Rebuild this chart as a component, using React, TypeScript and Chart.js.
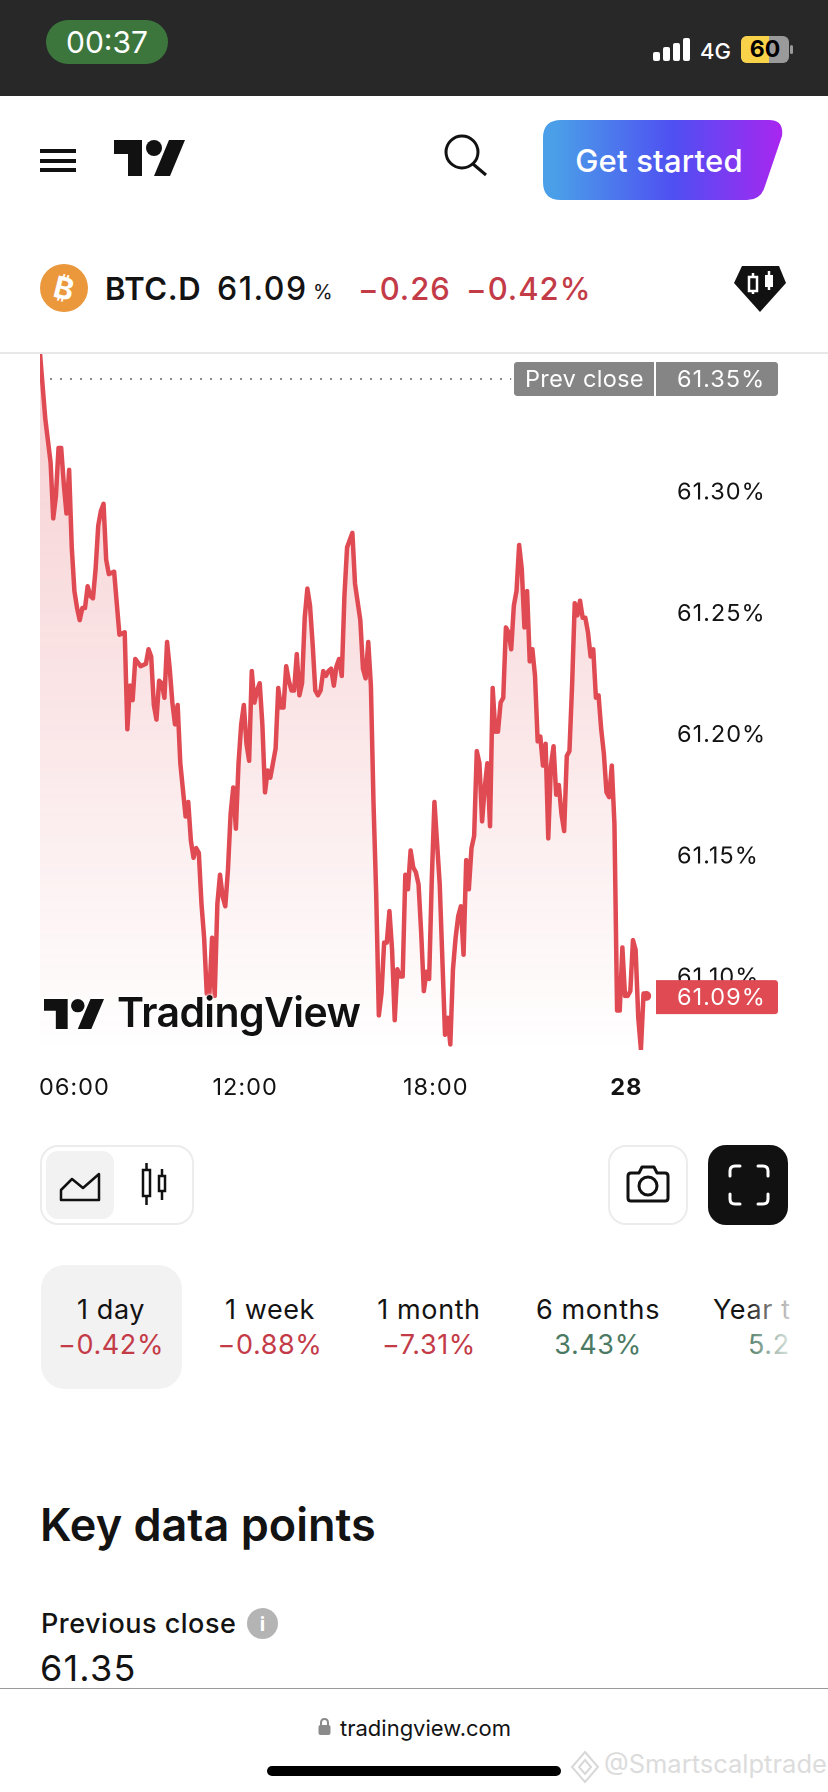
import React, { useEffect, useRef } from "react";
import { Chart, registerables } from "chart.js";

Chart.register(...registerables);

// 5-minute bar number counted from the first bar of the session
const barIndex = [0,2,4,5,6,7,8,9,10,11,12,13,14,15,16,17,18,19,20,21,22,23,24,25,26,28,29,30,32,33,34,35,36,38,40,41,42,43,44,45,46,47,48,49,50,51,52,53,55,56,57,58,59,60,61,62,63,64,65,66,67,68,69,70,71,72,73,74,75,76,77,78,79,80,81,82,83,84,85,86,87,88,89,90,91,92,93,94,95,96,97,98,99,100,101,102,103,104,105,106,107,108,109,110,111,112,113,114,115,116,117,118,119,121,122,123,124,125,126,127,128,129,130,131,132,133,134,135,136,137,138,139,140,141,142,143,144,145,146,147,148,149,150,151,152,153,154,155,156,157,158,159,160,161,162,163,164,165,166,167,168,169,170,171,172,173,174,175,176,177,178,179,180,181,182,183,184,185,186,187,188,189,190,191,192,193,194,195,196,197,198,199,200,201,202,203,204,205,206,207,208,209,210,211,212,213,214,215,216,217,218,219,220,221,222,223,224,225,226,227,228,229];

const dominance = [61.357,61.33,61.312,61.289,61.298,61.318,61.318,61.303,61.291,61.309,61.277,61.259,61.252,61.247,61.252,61.252,61.261,61.257,61.256,61.268,61.286,61.292,61.295,61.272,61.266,61.267,61.254,61.241,61.242,61.202,61.22,61.214,61.231,61.228,61.229,61.235,61.232,61.212,61.206,61.222,61.221,61.215,61.238,61.227,61.213,61.204,61.212,61.188,61.166,61.172,61.156,61.149,61.153,61.151,61.13,61.116,61.093,61.093,61.116,61.092,61.13,61.142,61.133,61.129,61.144,61.167,61.178,61.161,61.188,61.204,61.212,61.196,61.189,61.226,61.213,61.218,61.221,61.204,61.176,61.185,61.182,61.188,61.194,61.219,61.211,61.211,61.228,61.222,61.218,61.218,61.233,61.216,61.221,61.248,61.26,61.253,61.237,61.218,61.216,61.218,61.226,61.224,61.226,61.227,61.22,61.228,61.231,61.224,61.257,61.277,61.28,61.283,61.262,61.247,61.227,61.223,61.238,61.22,61.171,61.134,61.084,61.093,61.114,61.114,61.127,61.111,61.082,61.103,61.1,61.1,61.142,61.136,61.152,61.145,61.143,61.138,61.118,61.094,61.102,61.099,61.14,61.172,61.155,61.138,61.107,61.076,61.083,61.072,61.103,61.116,61.125,61.129,61.109,61.148,61.136,61.153,61.158,61.193,61.188,61.164,61.178,61.188,61.162,61.219,61.201,61.201,61.213,61.215,61.244,61.242,61.235,61.253,61.259,61.278,61.268,61.244,61.259,61.23,61.235,61.224,61.197,61.199,61.187,61.196,61.157,61.187,61.195,61.175,61.179,61.167,61.16,61.191,61.193,61.22,61.254,61.249,61.255,61.248,61.248,61.242,61.232,61.235,61.215,61.216,61.202,61.192,61.176,61.174,61.187,61.163,61.086,61.086,61.112,61.092,61.092,61.094,61.115,61.111,61.083,61.07,61.093,61.092];

const prevCloseLevel = [61.3465, 61.3465];
const prevCloseBars = [0, 178];
const yTicks = [61.1, 61.15, 61.2, 61.25, 61.3];
const xTickBars = [13, 77.5, 149.5, 221.5];
const xTickLabels = ["06:00", "12:00", "18:00", "28"];
const lastValue = 61.0915;

const periods = [
  { label: "1 day", change: "−0.42%", cx: 111, color: "#c43b48" },
  { label: "1 week", change: "−0.88%", cx: 270, color: "#c43b48" },
  { label: "1 month", change: "−7.31%", cx: 429, color: "#c43b48" },
  { label: "6 months", change: "3.43%", cx: 598, color: "#4b7a64" },
];

const RED = "#e04a53";
const INK = "#131313";
const FONT = "Inter, sans-serif";

function T(p: { x: number; y: number; size: number; color?: string; weight?: number; center?: boolean; sp?: number; children: React.ReactNode; style?: React.CSSProperties }) {
  return (
    <div
      style={{
        position: "absolute",
        left: p.x,
        top: p.y,
        transform: p.center ? "translate(-50%,-50%)" : "translateY(-50%)",
        fontFamily: FONT,
        fontSize: p.size,
        fontWeight: p.weight ?? 400,
        color: p.color ?? INK,
        whiteSpace: "nowrap",
        lineHeight: 1.2,
        letterSpacing: p.sp ?? 0,
        ...p.style,
      }}
    >
      {p.children}
    </div>
  );
}

function Logo(p: { x: number; y: number; w: number; h: number }) {
  return (
    <svg style={{ position: "absolute", left: p.x, top: p.y }} width={p.w} height={p.h} viewBox="0 4 35.5 18" preserveAspectRatio="none">
      <path d="M14 22H7V11H0V4h14v18zM28 22h-8l7.5-18h8L28 22z" fill="#111" />
      <circle cx="20" cy="8" r="4" fill="#111" />
    </svg>
  );
}

const tagPlugin = {
  id: "tags",
  beforeDraw(chart: any) {
    chart.ctx.letterSpacing = "1px";
  },
  afterDatasetsDraw(chart: any) {
    const { ctx, scales, chartArea } = chart;
    const y = scales.y;
    const rr = (x: number, yy: number, w: number, h: number, fill: string, r: number[]) => {
      ctx.fillStyle = fill;
      ctx.beginPath();
      ctx.roundRect(x, yy, w, h, r);
      ctx.fill();
    };
    const label = (s: string, x: number, yy: number, sp: string) => {
      ctx.letterSpacing = sp;
      ctx.fillStyle = "#fff";
      ctx.font = `23.5px ${FONT}`;
      ctx.textAlign = "left";
      ctx.textBaseline = "middle";
      ctx.fillText(s, x, yy + 1);
      ctx.letterSpacing = "1px";
    };
    const py = y.getPixelForValue(prevCloseLevel[0]);
    const right = chartArea.right;
    rr(514, py - 17, 140, 34, "#858585", [3, 0, 0, 3]);
    rr(right, py - 17, 122, 34, "#858585", [0, 3, 3, 0]);
    label("Prev close", 525, py, "0.3px");
    label("61.35%", 677, py, "1px");
    const ly = y.getPixelForValue(lastValue);
    rr(right, ly - 17, 122, 34, RED, [0, 3, 3, 0]);
    label("61.09%", 677, ly, "1px");
  },
};

function ChartCanvas() {
  const ref = useRef<HTMLCanvasElement>(null);
  useEffect(() => {
    const chart = new Chart(ref.current as HTMLCanvasElement, {
      type: "line",
      data: {
        datasets: [
          {
            data: barIndex.map((x, i) => ({ x, y: dominance[i] })),
            borderColor: RED,
            borderWidth: 4.5,
            borderJoinStyle: "round",
            borderCapStyle: "round",
            tension: 0,
            fill: "start",
            pointRadius: (c: any) => (c.dataIndex === barIndex.length - 1 ? 5 : 0),
            pointBackgroundColor: RED,
            pointBorderWidth: 0,
            backgroundColor: (c: any) => {
              const a = c.chart.chartArea;
              if (!a) return "transparent";
              const g = c.chart.ctx.createLinearGradient(0, a.top, 0, a.bottom);
              g.addColorStop(0, "rgba(224,74,83,0.26)");
              g.addColorStop(0.55, "rgba(224,74,83,0.13)");
              g.addColorStop(1, "rgba(224,74,83,0)");
              return g;
            },
          } as any,
          {
            data: prevCloseBars.map((x, i) => ({ x, y: prevCloseLevel[i] })),
            borderColor: "#8a8a8a",
            borderWidth: 2,
            borderDash: [2, 8],
            pointRadius: 0,
            fill: false,
          } as any,
        ],
      },
      options: {
        animation: false,
        responsive: false,
        devicePixelRatio: 2,
        layout: { padding: { top: 13, left: 40, right: 0, bottom: 10 } },
        plugins: { legend: { display: false }, tooltip: { enabled: false } },
        scales: {
          x: {
            type: "linear",
            min: 0,
            max: 232.7,
            border: { display: false },
            grid: { display: false, drawTicks: false },
            afterFit: (s: any) => { s.height = 60; s.paddingLeft = 0; s.paddingRight = 0; },
            afterBuildTicks: (s: any) => { s.ticks = xTickBars.map((value) => ({ value })); },
            ticks: {
              autoSkip: false,
              maxRotation: 0,
              padding: 24,
              color: INK,
              font: (c: any) => ({ family: FONT, size: 23.5, weight: c.tick && c.tick.value === xTickBars[3] ? "bold" : "normal" }),
              callback: (v: any) => xTickLabels[xTickBars.indexOf(v)],
            },
          },
          y: {
            position: "right",
            min: 61.0697,
            max: 61.3572,
            border: { display: false },
            grid: { display: false, drawTicks: false },
            afterFit: (s: any) => { s.width = 172; s.paddingTop = 0; s.paddingBottom = 0; },
            afterBuildTicks: (s: any) => { s.ticks = yTicks.map((value) => ({ value })); },
            ticks: {
              padding: 21,
              labelOffset: 1,
              color: INK,
              font: { family: FONT, size: 23.5 },
              callback: (v: any) => Number(v).toFixed(2) + "%",
            },
          },
        },
      } as any,
      plugins: [tagPlugin],
    });
    return () => chart.destroy();
  }, []);
  return <canvas ref={ref} width={828} height={780} style={{ position: "absolute", left: 0, top: 340, width: 828, height: 780 }} />;
}

export default function App() {
  useEffect(() => {
    document.body.style.margin = "0";
  }, []);
  const box: React.CSSProperties = { position: "absolute", boxSizing: "border-box" };
  return (
    <div style={{ position: "absolute", left: 0, top: 0, width: 828, height: 1792, background: "#fff", overflow: "hidden" }}>
      {/* status bar */}
      <div style={{ ...box, left: 0, top: 0, width: 828, height: 96, background: "#282828" }} />
      <div style={{ ...box, left: 46, top: 20, width: 122, height: 44, borderRadius: 22, background: "#3c763d" }} />
      <T x={107} y={42} size={30} color="#fff" center>00:37</T>
      {[[653, 52, 9], [663, 47, 14], [673, 43, 18], [683, 38, 23]].map(([x, y, h], i) => (
        <div key={i} style={{ ...box, left: x, top: y, width: 7, height: h, background: "#fff", borderRadius: 2 }} />
      ))}
      <T x={700} y={51} size={22} color="#fff" weight={500}>4G</T>
      <div style={{ ...box, left: 741, top: 36, width: 48, height: 27, borderRadius: 6, overflow: "hidden", background: "#9a9a9a" }}>
        <div style={{ width: 28, height: 27, background: "#f8d34a" }} />
      </div>
      <div style={{ ...box, left: 790, top: 45, width: 3, height: 9, background: "#9a9a9a", borderRadius: 2 }} />
      <T x={765} y={50} size={23} color="#000" center weight={700}>60</T>

      {/* header */}
      {[149, 159, 168].map((y) => (
        <div key={y} style={{ ...box, left: 40, top: y, width: 36, height: 4, background: "#111" }} />
      ))}
      <Logo x={114} y={140} w={71} h={36} />
      <svg style={{ position: "absolute", left: 442, top: 132 }} width={50} height={48} fill="none" stroke="#111" strokeWidth={3}>
        <circle cx={20} cy={20} r={16} />
        <path d="M31 32 L44 43" />
      </svg>
      <svg style={{ position: "absolute", left: 543, top: 120 }} width={240} height={80}>
        <defs>
          <linearGradient id="btn" x1="0" x2="1" y1="0" y2="0">
            <stop offset="0.05" stopColor="#4a9fe8" />
            <stop offset="0.55" stopColor="#4f4ff2" />
            <stop offset="1" stopColor="#a926f0" />
          </linearGradient>
        </defs>
        <path d="M18 0 H226 Q241 0 239 16 L222 66 Q218 80 204 80 H18 Q0 80 0 62 V18 Q0 0 18 0 Z" fill="url(#btn)" />
      </svg>
      <T x={659} y={161} size={31} color="#fff" center weight={500} sp={0.2}>Get started</T>

      {/* symbol row */}
      <div style={{ ...box, left: 40, top: 264, width: 48, height: 48, borderRadius: 24, background: "#ea983b" }} />
      <T x={64} y={288} size={30} color="#fff" center weight={700} style={{ transform: "translate(-50%,-50%) rotate(14deg)" }}>₿</T>
      <T x={105} y={289} size={31} weight={600} sp={0.6}>BTC.D</T>
      <T x={217} y={289} size={32} weight={500} sp={1.5}>61.09</T>
      <T x={313} y={292} size={20}>%</T>
      <T x={358} y={289} size={31} color="#c43b48" weight={500} sp={1}>−0.26</T>
      <T x={466} y={289} size={31} color="#c43b48" weight={500} sp={1}>−0.42%</T>
      <svg style={{ position: "absolute", left: 734, top: 266 }} width={52} height={46}>
        <polygon points="8,0 45,0 52,17 26,46 0,17" fill="#111" />
        <rect x={15} y={11} width={8} height={14} fill="none" stroke="#fff" strokeWidth={2.5} />
        <path d="M19 7V11M19 25V28" stroke="#fff" strokeWidth={2.5} />
        <rect x={31} y={9} width={8} height={12} fill="#fff" />
        <path d="M35 5V24" stroke="#fff" strokeWidth={2.5} />
      </svg>

      {/* chart */}
      <ChartCanvas />
      <div style={{ ...box, left: 0, top: 352, width: 828, height: 2, background: "#e8e8e8" }} />
      <div style={{ position: "absolute", left: 44, top: 999, filter: "drop-shadow(0 0 2px #fff) drop-shadow(0 0 2px #fff)" }}>
        <Logo x={0} y={0} w={60} h={30} />
      </div>
      <T x={117} y={1013} size={41} weight={600} color="#111" sp={-0.6} style={{ textShadow: "0 0 3px #fff, 0 0 3px #fff" }}>TradingView</T>

      {/* chart style buttons */}
      <div style={{ ...box, left: 40, top: 1145, width: 154, height: 80, border: "2px solid #ececec", borderRadius: 18 }} />
      <div style={{ ...box, left: 46, top: 1151, width: 68, height: 68, background: "#f2f2f2", borderRadius: 12 }} />
      <svg style={{ position: "absolute", left: 58, top: 1170 }} width={44} height={32} fill="none" stroke="#111" strokeWidth={2.5} strokeLinejoin="round">
        <path d="M3 30 V20 L14 9 L25 18 L41 4 V30 Z" />
      </svg>
      <svg style={{ position: "absolute", left: 138, top: 1162 }} width={32} height={44} fill="none" stroke="#111" strokeWidth={2.5}>
        <rect x={5} y={8} width={7} height={26} />
        <path d="M8.5 1V8M8.5 34V43" />
        <rect x={21} y={14} width={6} height={15} />
        <path d="M24 7V14M24 29V38" />
      </svg>
      <div style={{ ...box, left: 608, top: 1145, width: 80, height: 80, border: "2px solid #ececec", borderRadius: 18 }} />
      <svg style={{ position: "absolute", left: 626, top: 1163 }} width={44} height={44} fill="none" stroke="#111" strokeWidth={3} strokeLinejoin="round">
        <path d="M5 10 H13 L16 4 H28 L31 10 H39 Q42 10 42 13 V35 Q42 38 39 38 H5 Q2 38 2 35 V13 Q2 10 5 10 Z" />
        <circle cx={22} cy={23} r={9} />
      </svg>
      <div style={{ ...box, left: 708, top: 1145, width: 80, height: 80, background: "#111", borderRadius: 18 }} />
      <svg style={{ position: "absolute", left: 728, top: 1164 }} width={42} height={42} fill="none" stroke="#fff" strokeWidth={3} strokeLinecap="round">
        <path d="M2 12 V7 Q2 2 7 2 H12 M30 2 H35 Q40 2 40 7 V12 M40 30 V35 Q40 40 35 40 H30 M12 40 H7 Q2 40 2 35 V30" />
      </svg>

      {/* period tabs */}
      <div style={{ ...box, left: 41, top: 1265, width: 141, height: 124, background: "#f2f2f2", borderRadius: 24 }} />
      {periods.map((p) => (
        <React.Fragment key={p.label}>
          <T x={p.cx} y={1310} size={27} center sp={0.6}>{p.label}</T>
          <T x={p.cx} y={1345} size={27} center color={p.color} sp={0.6}>{p.change}</T>
        </React.Fragment>
      ))}
      <T x={713} y={1310} size={27} sp={0.6}>Year t</T>
      <T x={748} y={1345} size={27} color="#4b7a64" sp={0.6}>5.2</T>
      <div style={{ ...box, left: 745, top: 1290, width: 45, height: 75, background: "linear-gradient(90deg, rgba(255,255,255,0), rgba(255,255,255,0.8))" }} />

      {/* key data */}
      <T x={40} y={1525} size={45} weight={600}>Key data points</T>
      <T x={41} y={1624} size={27} weight={500} sp={0.5}>Previous close</T>
      <div style={{ ...box, left: 247, top: 1608, width: 31, height: 31, borderRadius: 16, background: "#b4b4b4" }} />
      <T x={262.5} y={1624} size={20} color="#fff" center weight={700}>i</T>
      <T x={40} y={1669} size={36} sp={1.2}>61.35</T>

      {/* browser bar */}
      <div style={{ ...box, left: 0, top: 1688, width: 828, height: 104, background: "#fff", borderTop: "1px solid #999" }} />
      <svg style={{ position: "absolute", left: 318, top: 1718 }} width={13} height={18}>
        <path d="M3 8 V5 Q3 1 6.5 1 Q10 1 10 5 V8" fill="none" stroke="#8a8a8a" strokeWidth={2} />
        <rect x={0.5} y={7} width={12} height={10} rx={2} fill="#8a8a8a" />
      </svg>
      <T x={340} y={1728} size={22}>tradingview.com</T>
      <div style={{ ...box, left: 267, top: 1766, width: 294, height: 10, borderRadius: 5, background: "#000" }} />
      <svg style={{ position: "absolute", left: 570, top: 1750 }} width={30} height={34} fill="none" stroke="#d8d8d8" strokeWidth={2}>
        <path d="M15 2 L28 17 L15 32 L2 17 Z M15 10 L21 17 L15 24 L9 17 Z" />
      </svg>
      <T x={604} y={1764} size={25.5} color="#dcdcdc">@Smartscalptrade</T>
    </div>
  );
}
